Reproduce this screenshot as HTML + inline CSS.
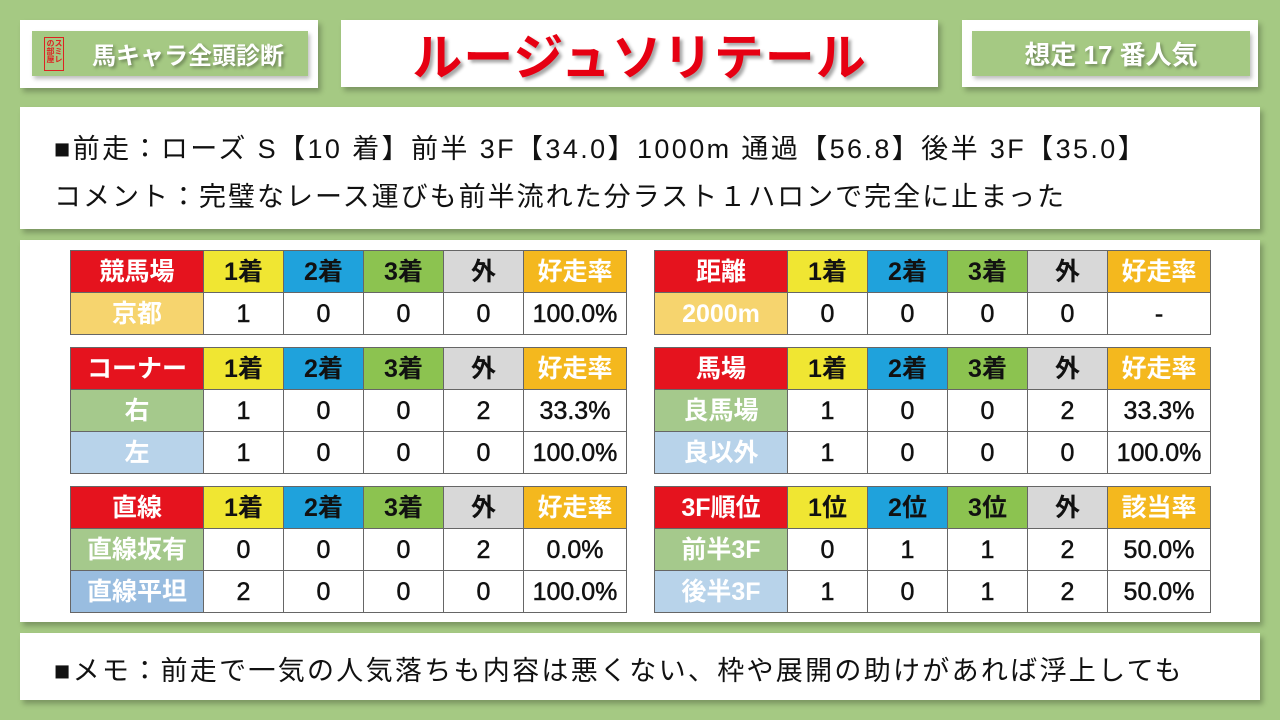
<!DOCTYPE html>
<html><head><meta charset="utf-8"><style>
*{margin:0;padding:0;box-sizing:border-box}
body{width:1280px;height:720px;background:#a5c983;position:relative;overflow:hidden;font-family:"Liberation Sans","Noto Sans CJK JP",sans-serif}
.box{position:absolute;background:#fff;box-shadow:3px 4px 5px rgba(0,0,0,.25)}
.inner{position:absolute;background:#a5c983;box-shadow:2px 3px 4px rgba(0,0,0,.25);color:#fff;font-weight:bold;display:flex;align-items:center;justify-content:center;text-shadow:2px 2px 3px rgba(0,0,0,.35)}
table{position:absolute;border-collapse:collapse;table-layout:fixed}
td{border:1px solid #666;height:42px;text-align:center;font-size:25px;font-weight:normal;color:#111;background:#fff;padding:0;line-height:40px;-webkit-text-stroke:0.5px #111}
tr:first-child td, td:first-child{font-weight:bold;-webkit-text-stroke:0}
.r{background:#e5131e;color:#fff}.y{background:#f0e632}.b{background:#1fa2dc}.g{background:#8cc350}.gr{background:#d8d8d8}.o{background:#f4b81e;color:#fff}
.v{background:#f6d46e;color:#fff}.lg{background:#a5c98c;color:#fff}.lb{background:#b8d3ea;color:#fff}.db{background:#99bde0;color:#fff}
.txt{position:absolute;font-size:27px;letter-spacing:2px;color:#111;white-space:nowrap}
</style></head><body>
<div class="box" style="left:20px;top:20px;width:298px;height:68px"></div>
<div class="inner" style="left:32px;top:31px;width:276px;height:45px;font-size:24px;padding-left:36px">馬キャラ全頭診断</div>
<div style="position:absolute;left:44px;top:37px;width:20px;height:34px;border:1px solid #d22;font-size:8px;line-height:8px;color:#d22;font-weight:bold;writing-mode:vertical-rl;padding:1px">スミレの部屋</div>
<div class="box" style="left:341px;top:20px;width:597px;height:67px"></div>
<div style="position:absolute;left:341px;top:20px;width:597px;height:67px;display:flex;align-items:center;justify-content:center;color:#e60012;font-size:50px;font-weight:bold;text-shadow:3px 3px 3px rgba(0,0,0,.35);letter-spacing:1px">ルージュソリテール</div>
<div class="box" style="left:962px;top:20px;width:296px;height:67px"></div>
<div class="inner" style="left:972px;top:31px;width:278px;height:45px;font-size:26px">想定 17 番人気</div>
<div class="box" style="left:20px;top:107px;width:1240px;height:122px"></div>
<div class="txt" style="left:54px;top:127px;letter-spacing:2.4px">■前走：ローズ S【10 着】前半 3F【34.0】1000m 通過【56.8】後半 3F【35.0】</div>
<div class="txt" style="left:54px;top:175px">コメント：完璧なレース運びも前半流れた分ラスト１ハロンで完全に止まった</div>
<div class="box" style="left:20px;top:240px;width:1240px;height:382px"></div>
<div class="box" style="left:20px;top:633px;width:1240px;height:67px"></div>
<div class="txt" style="left:54px;top:649px;letter-spacing:2.3px">■メモ：前走で一気の人気落ちも内容は悪くない、枠や展開の助けがあれば浮上しても</div>

<table style="left:70px;top:250px;width:556px"><colgroup><col style="width:133px"><col style="width:80px"><col style="width:80px"><col style="width:80px"><col style="width:80px"><col style="width:103px"></colgroup>
<tr><td class="r">競馬場</td><td class="y">1着</td><td class="b">2着</td><td class="g">3着</td><td class="gr">外</td><td class="o">好走率</td></tr>
<tr><td class="v">京都</td><td>1</td><td>0</td><td>0</td><td>0</td><td>100.0%</td></tr></table>

<table style="left:70px;top:347px;width:556px"><colgroup><col style="width:133px"><col style="width:80px"><col style="width:80px"><col style="width:80px"><col style="width:80px"><col style="width:103px"></colgroup>
<tr><td class="r">コーナー</td><td class="y">1着</td><td class="b">2着</td><td class="g">3着</td><td class="gr">外</td><td class="o">好走率</td></tr>
<tr><td class="lg">右</td><td>1</td><td>0</td><td>0</td><td>2</td><td>33.3%</td></tr>
<tr><td class="lb">左</td><td>1</td><td>0</td><td>0</td><td>0</td><td>100.0%</td></tr></table>

<table style="left:70px;top:486px;width:556px"><colgroup><col style="width:133px"><col style="width:80px"><col style="width:80px"><col style="width:80px"><col style="width:80px"><col style="width:103px"></colgroup>
<tr><td class="r">直線</td><td class="y">1着</td><td class="b">2着</td><td class="g">3着</td><td class="gr">外</td><td class="o">好走率</td></tr>
<tr><td class="lg">直線坂有</td><td>0</td><td>0</td><td>0</td><td>2</td><td>0.0%</td></tr>
<tr><td class="db">直線平坦</td><td>2</td><td>0</td><td>0</td><td>0</td><td>100.0%</td></tr></table>

<table style="left:654px;top:250px;width:556px"><colgroup><col style="width:133px"><col style="width:80px"><col style="width:80px"><col style="width:80px"><col style="width:80px"><col style="width:103px"></colgroup>
<tr><td class="r">距離</td><td class="y">1着</td><td class="b">2着</td><td class="g">3着</td><td class="gr">外</td><td class="o">好走率</td></tr>
<tr><td class="v">2000m</td><td>0</td><td>0</td><td>0</td><td>0</td><td>-</td></tr></table>

<table style="left:654px;top:347px;width:556px"><colgroup><col style="width:133px"><col style="width:80px"><col style="width:80px"><col style="width:80px"><col style="width:80px"><col style="width:103px"></colgroup>
<tr><td class="r">馬場</td><td class="y">1着</td><td class="b">2着</td><td class="g">3着</td><td class="gr">外</td><td class="o">好走率</td></tr>
<tr><td class="lg">良馬場</td><td>1</td><td>0</td><td>0</td><td>2</td><td>33.3%</td></tr>
<tr><td class="lb">良以外</td><td>1</td><td>0</td><td>0</td><td>0</td><td>100.0%</td></tr></table>

<table style="left:654px;top:486px;width:556px"><colgroup><col style="width:133px"><col style="width:80px"><col style="width:80px"><col style="width:80px"><col style="width:80px"><col style="width:103px"></colgroup>
<tr><td class="r">3F順位</td><td class="y">1位</td><td class="b">2位</td><td class="g">3位</td><td class="gr">外</td><td class="o">該当率</td></tr>
<tr><td class="lg">前半3F</td><td>0</td><td>1</td><td>1</td><td>2</td><td>50.0%</td></tr>
<tr><td class="lb">後半3F</td><td>1</td><td>0</td><td>1</td><td>2</td><td>50.0%</td></tr></table>
</body></html>
